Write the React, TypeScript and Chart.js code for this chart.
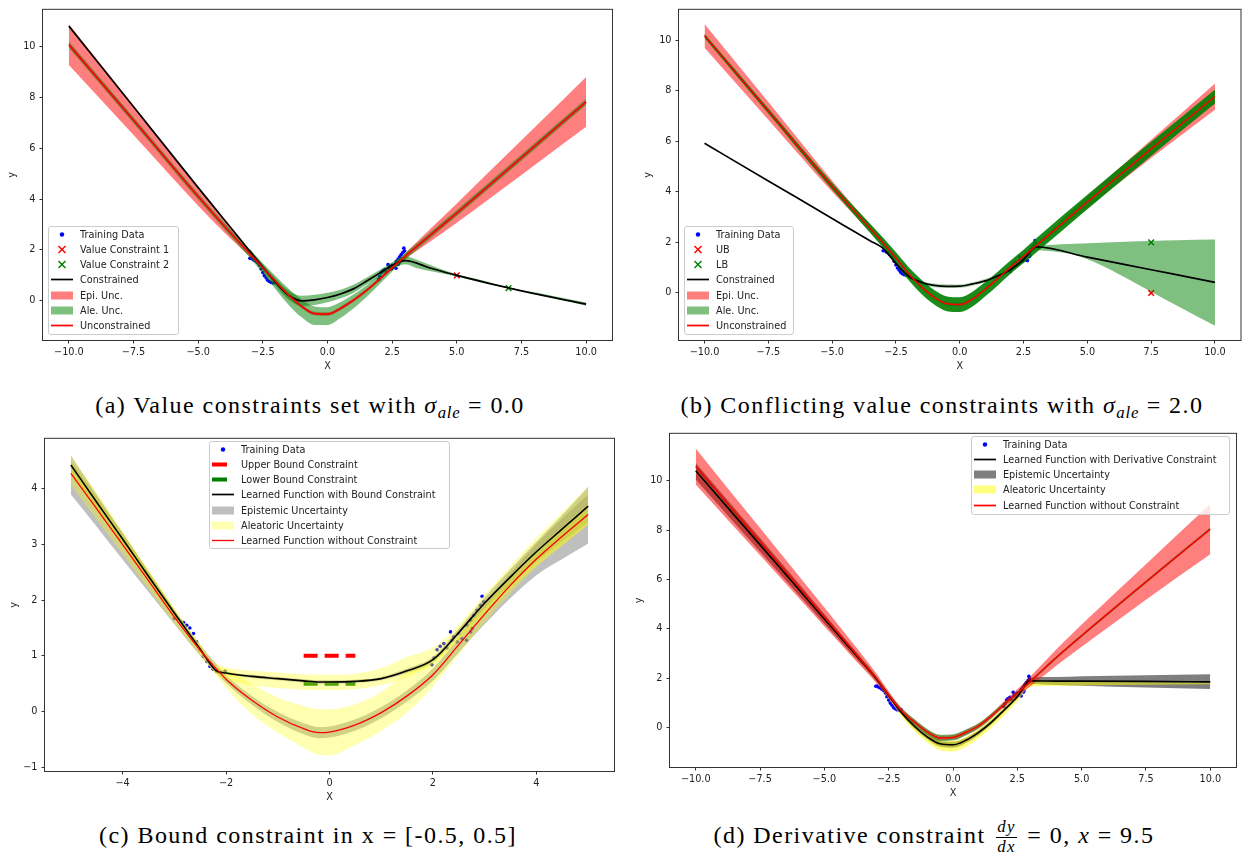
import React, { useEffect, useRef } from "react";
import { Chart, registerables } from "chart.js";

Chart.register(...registerables);

// ---------------- shared data ----------------
const TRAIN_X = [-3.0, -2.95, -2.88, -2.82, -2.76, -2.7, -2.63, -2.57, -2.5, -2.44, -2.37, -2.31, -2.25, -2.18, -2.1, -2.02,
  1.98, 2.02, 2.08, 2.14, 2.21, 2.27, 2.34, 2.37, 2.4, 2.47, 2.5, 2.56, 2.65, 2.66, 2.73, 2.73, 2.76, 2.79, 2.85, 2.92, 2.95, 2.98];
const TRAIN_Y = [1.67, 1.68, 1.62, 1.6, 1.55, 1.5, 1.4, 1.25, 1.11, 0.99, 0.9, 0.81, 0.76, 0.72, 0.7, 0.72,
  0.84, 0.96, 1.11, 1.17, 1.22, 1.14, 1.43, 1.28, 1.34, 1.25, 1.4, 1.31, 1.28, 1.55, 1.64, 1.43, 1.49, 1.73, 1.82, 1.91, 2.07, 1.97];

const GX = [-10, -7.5, -5, -4, -3, -2.5, -2, -1.5, -1, -0.5, 0, 0.5, 1, 1.5, 2, 2.5, 3, 4, 5, 7.5, 10];
const X_TICKS_WIDE = [-10, -7.5, -5, -2.5, 0, 2.5, 5, 7.5, 10];
const Y_TICKS_WIDE = [0, 2, 4, 6, 8, 10];

// ---------------- (a) ----------------
const A_RED = [10.07, 7.1, 4.1, 2.95, 1.85, 1.3, 0.75, 0.22, -0.22, -0.5, -0.52, -0.3, 0.02, 0.4, 0.84, 1.3, 1.75, 2.6, 3.45, 5.63, 7.82];
const A_EPI_LO = [9.27, 6.52, 3.74, 2.7, 1.73, 1.22, 0.68, 0.15, -0.29, -0.57, -0.59, -0.37, -0.05, 0.33, 0.77, 1.22, 1.63, 2.35, 3.07, 4.95, 6.84];
const A_EPI_HI = [10.87, 7.68, 4.46, 3.2, 1.97, 1.38, 0.82, 0.29, -0.15, -0.43, -0.45, -0.23, 0.09, 0.47, 0.91, 1.38, 1.87, 2.85, 3.83, 6.31, 8.8];
const A_ALE_LO = [9.95, 6.98, 3.98, 2.82, 1.69, 1.08, 0.45, -0.16, -0.65, -0.95, -0.95, -0.68, -0.3, 0.14, 0.64, 1.15, 1.62, 2.48, 3.33, 5.51, 7.7];
const A_ALE_HI = [10.19, 7.22, 4.22, 3.08, 2.0, 1.48, 0.97, 0.47, 0.05, -0.22, -0.25, -0.05, 0.25, 0.6, 1.01, 1.44, 1.88, 2.72, 3.57, 5.75, 7.94];
const A_BLACK = [10.8, 7.63, 4.45, 3.2, 1.95, 1.32, 0.72, 0.22, 0.0, 0.04, 0.13, 0.27, 0.47, 0.77, 1.08, 1.4, 1.58, 1.28, 1.0, 0.39, -0.13];
const A_BX = [-3, -2.5, -2, -1.5, -1, -0.5, 0, 0.5, 1, 1.5, 2, 2.5, 3, 3.5, 4, 5, 6, 7, 8.5, 10];
const A_BALE_LO = [1.85, 1.2, 0.57, 0.04, -0.2, -0.16, -0.06, 0.1, 0.31, 0.63, 0.96, 1.26, 1.44, 1.27, 1.16, 0.96, 0.7, 0.48, 0.16, -0.19];
const A_BALE_HI = [2.05, 1.44, 0.87, 0.4, 0.2, 0.24, 0.32, 0.44, 0.63, 0.91, 1.2, 1.52, 1.74, 1.6, 1.4, 1.04, 0.8, 0.52, 0.24, -0.07];
const A_VC1 = [{ x: 5, y: 1.0 }];
const A_VC2 = [{ x: 7, y: 0.5 }];

// ---------------- (b) ----------------
const B_RED = [10.17, 7.2, 4.22, 3.1, 1.98, 1.38, 0.76, 0.24, -0.17, -0.43, -0.46, -0.24, 0.15, 0.58, 1.03, 1.45, 1.88, 2.74, 3.6, 5.7, 7.77];
const B_EPI_LO = [9.7, 6.85, 4.0, 2.94, 1.88, 1.3, 0.69, 0.17, -0.24, -0.5, -0.53, -0.31, 0.08, 0.51, 0.96, 1.37, 1.78, 2.58, 3.38, 5.34, 7.25];
const B_EPI_HI = [10.64, 7.55, 4.44, 3.26, 2.08, 1.46, 0.83, 0.31, -0.1, -0.36, -0.39, -0.17, 0.22, 0.65, 1.1, 1.53, 1.98, 2.9, 3.82, 6.06, 8.29];
const B_ALE_LO = [10.09, 7.1, 4.09, 2.94, 1.78, 1.15, 0.5, -0.04, -0.46, -0.72, -0.75, -0.53, -0.13, 0.31, 0.77, 1.19, 1.6, 2.45, 3.31, 5.42, 7.49];
const B_ALE_HI = [10.25, 7.3, 4.35, 3.26, 2.18, 1.61, 1.02, 0.52, 0.12, -0.14, -0.17, 0.05, 0.43, 0.85, 1.29, 1.71, 2.16, 3.03, 3.89, 5.98, 8.05];
const B_BX = [-10, -7.5, -5, -4, -3.5, -3, -2.75, -2.5, -2, -1.5, -1, -0.5, 0, 0.5, 1, 1.5, 2, 2.5, 3, 5, 7.5, 10];
const B_BLACK = [5.92, 4.43, 2.95, 2.35, 2.06, 1.76, 1.47, 1.17, 0.66, 0.42, 0.3, 0.26, 0.27, 0.36, 0.48, 0.68, 0.93, 1.32, 1.82, 1.42, 0.92, 0.42];
const B_BALE_X = [-3, -2, -1, 0, 1, 2, 3];
const B_BALE_LO = [1.72, 0.6, 0.23, 0.2, 0.42, 0.87, 1.76];
const B_BALE_HI = [1.8, 0.72, 0.37, 0.34, 0.56, 0.99, 1.88];
const B_WIDE_X = [3, 3.5, 4.5, 5.5, 6.5, 7.5, 8.5, 10];
const B_WIDE_LO = [1.7, 1.66, 1.5, 1.12, 0.6, 0.05, -0.5, -1.3];
const B_WIDE_HI = [1.86, 1.9, 1.95, 1.99, 2.03, 2.06, 2.09, 2.12];
const B_UB = [{ x: 7.5, y: 0 }];
const B_LB = [{ x: 7.5, y: 2 }];

// ---------------- (c) ----------------
const C_X = [-5, -4.5, -4, -3.5, -3, -2.5, -2.2, -2, -1.5, -1, -0.5, -0.2, 0, 0.5, 1, 1.5, 2, 2.5, 3, 3.5, 4, 4.5, 5];
const C_RED = [4.28, 3.64, 3.0, 2.35, 1.7, 1.1, 0.78, 0.58, 0.2, -0.1, -0.31, -0.38, -0.37, -0.24, -0.02, 0.28, 0.66, 1.2, 1.75, 2.27, 2.74, 3.15, 3.54];
const C_BLACK = [4.43, 3.76, 3.1, 2.43, 1.77, 1.12, 0.74, 0.69, 0.63, 0.59, 0.55, 0.53, 0.53, 0.54, 0.59, 0.73, 0.93, 1.42, 1.95, 2.42, 2.87, 3.28, 3.69];
const C_REPI_LO = [3.9, 3.32, 2.73, 2.15, 1.57, 1.0, 0.7, 0.51, 0.12, -0.19, -0.41, -0.48, -0.47, -0.34, -0.12, 0.18, 0.55, 1.06, 1.57, 2.04, 2.45, 2.74, 3.02];
const C_REPI_HI = [4.5, 3.85, 3.2, 2.52, 1.83, 1.2, 0.86, 0.65, 0.28, -0.01, -0.21, -0.28, -0.27, -0.14, 0.08, 0.38, 0.77, 1.34, 1.93, 2.49, 3.01, 3.47, 3.9];
const C_RALE_LO = [4.08, 3.45, 2.83, 2.2, 1.58, 1.0, 0.68, 0.43, -0.05, -0.38, -0.65, -0.78, -0.79, -0.6, -0.35, -0.02, 0.45, 1.03, 1.6, 2.12, 2.59, 2.99, 3.36];
const C_RALE_HI = [4.48, 3.83, 3.17, 2.5, 1.82, 1.2, 0.88, 0.78, 0.5, 0.25, 0.1, 0.04, 0.04, 0.13, 0.35, 0.7, 0.95, 1.38, 1.9, 2.42, 2.89, 3.31, 3.72];
const C_BEPI_LO = [4.3, 3.66, 3.02, 2.37, 1.72, 1.08, 0.69, 0.66, 0.6, 0.56, 0.52, 0.5, 0.5, 0.51, 0.56, 0.69, 0.88, 1.35, 1.85, 2.28, 2.69, 3.06, 3.4];
const C_BEPI_HI = [4.6, 3.9, 3.21, 2.51, 1.83, 1.17, 0.79, 0.72, 0.66, 0.62, 0.58, 0.56, 0.56, 0.57, 0.62, 0.77, 0.98, 1.49, 2.05, 2.56, 3.05, 3.53, 4.04];
const C_BALE_LO = [4.25, 3.6, 2.96, 2.31, 1.67, 1.04, 0.67, 0.58, 0.47, 0.42, 0.39, 0.38, 0.38, 0.4, 0.47, 0.62, 0.85, 1.28, 1.75, 2.2, 2.62, 2.98, 3.35];
const C_BALE_HI = [4.6, 3.93, 3.25, 2.55, 1.87, 1.2, 0.81, 0.78, 0.73, 0.7, 0.67, 0.66, 0.66, 0.68, 0.78, 0.98, 1.15, 1.56, 2.1, 2.62, 3.12, 3.58, 4.04];
const C_BOUND_X = [-0.5, 0.5];
const C_UB_Y = [1, 1];
const C_LB_Y = [0.5, 0.5];
const C_X_TICKS = [-4, -2, 0, 2, 4];
const C_Y_TICKS = [-1, 0, 1, 2, 3, 4];

// ---------------- (d) ----------------
const D_RED = [10.58, 7.53, 4.48, 3.26, 2.02, 1.32, 0.68, 0.22, -0.18, -0.42, -0.4, -0.2, 0.07, 0.48, 0.95, 1.4, 1.86, 2.82, 3.72, 5.9, 8.04];
const D_EPI_LO = [9.85, 6.98, 4.1, 2.96, 1.82, 1.17, 0.56, 0.12, -0.28, -0.52, -0.5, -0.3, -0.03, 0.38, 0.83, 1.25, 1.66, 2.49, 3.27, 5.18, 7.02];
const D_EPI_HI = [11.31, 8.08, 4.86, 3.56, 2.22, 1.47, 0.8, 0.32, -0.08, -0.32, -0.3, -0.1, 0.17, 0.58, 1.07, 1.55, 2.06, 3.15, 4.17, 6.62, 9.06];
const D_GRN_LO = [10.52, 7.47, 4.42, 3.2, 1.95, 1.24, 0.58, 0.1, -0.3, -0.55, -0.53, -0.32, -0.04, 0.38, 0.87, 1.33, 1.8, 2.76, 3.66, 5.84, 7.98];
const D_GRN_HI = [10.64, 7.59, 4.54, 3.32, 2.09, 1.4, 0.78, 0.34, -0.06, -0.29, -0.27, -0.08, 0.18, 0.58, 1.03, 1.47, 1.92, 2.88, 3.78, 5.96, 8.1];
const D_BLACK = [10.4, 7.4, 4.4, 3.2, 2.0, 1.3, 0.6, 0.05, -0.38, -0.66, -0.7, -0.52, -0.2, 0.22, 0.72, 1.25, 1.89, 1.88, 1.88, 1.87, 1.85];
const D_GRAY_LO = [10.05, 7.12, 4.2, 3.05, 1.9, 1.22, 0.52, -0.04, -0.48, -0.78, -0.82, -0.63, -0.3, 0.13, 0.64, 1.16, 1.76, 1.72, 1.69, 1.62, 1.56];
const D_GRAY_HI = [10.72, 7.68, 4.6, 3.35, 2.1, 1.38, 0.68, 0.14, -0.28, -0.54, -0.58, -0.41, -0.1, 0.31, 0.8, 1.34, 2.02, 2.05, 2.08, 2.12, 2.16];
const D_YEL_LO = [10.35, 7.35, 4.34, 3.13, 1.9, 1.18, 0.45, -0.14, -0.6, -0.92, -0.97, -0.78, -0.44, 0.0, 0.5, 1.05, 1.65, 1.68, 1.7, 1.73, 1.75];
const D_YEL_HI = [10.45, 7.45, 4.46, 3.27, 2.08, 1.38, 0.68, 0.14, -0.28, -0.52, -0.55, -0.38, -0.06, 0.36, 0.84, 1.36, 1.9, 1.88, 1.86, 1.83, 1.81];

// ---------------- legend labels ----------------
const A_LABELS = ["Training Data", "Value Constraint 1", "Value Constraint 2", "Constrained", "Epi. Unc.", "Ale. Unc.", "Unconstrained"];
const B_LABELS = ["Training Data", "UB", "LB", "Constrained", "Epi. Unc.", "Ale. Unc.", "Unconstrained"];
const C_LABELS = ["Training Data", "Upper Bound Constraint", "Lower Bound Constraint", "Learned Function with Bound Constraint", "Epistemic Uncertainty", "Aleatoric Uncertainty", "Learned Function without Constraint"];
const D_LABELS = ["Training Data", "Learned Function with Derivative Constraint", "Epistemic Uncertainty", "Aleatoric Uncertainty", "Learned Function without Constraint"];

// ---------------- colours ----------------
const RED = "#ff0000";
const BLACK = "#000000";
const BLUE = "#0000ff";
const GREEN = "#008000";
const RED_A = "rgba(255,0,0,0.5)";
const GREEN_A = "rgba(0,128,0,0.5)";
const GREEN_DARK = "rgba(0,128,0,0.9)";
const GRAY_A = "rgba(128,128,128,0.5)";
const YELLOW_3 = "rgba(255,255,0,0.3)";
const BLACK_A = "rgba(0,0,0,0.5)";
const YELLOW_5 = "rgba(255,255,0,0.5)";

const FONT = '"DejaVu Sans", sans-serif';
const SERIF = '"Liberation Serif", "Times New Roman", "DejaVu Serif", "Noto Serif", serif';
const TXT = "#222";
const AXIS = "#333";
const YW = 36;
const XH = 32;

// ---------------- helpers ----------------
const pts = (xs: number[], ys: number[]) => xs.map((x, i) => ({ x, y: ys[i] }));

const line = (xs: number[], ys: number[], color: string, width: number, extra: any = {}) => ({
  data: pts(xs, ys), borderColor: color, borderWidth: width, pointRadius: 0, fill: false,
  cubicInterpolationMode: "monotone", ...extra,
});

const band = (xs: number[], lo: number[], hi: number[], color: string) => [
  { data: pts(xs, lo), borderWidth: 0, borderColor: "transparent", pointRadius: 0, fill: false, cubicInterpolationMode: "monotone" },
  { data: pts(xs, hi), borderWidth: 0, borderColor: "transparent", pointRadius: 0, fill: "-1", backgroundColor: color, cubicInterpolationMode: "monotone" },
];

const scatter = () => ({
  data: pts(TRAIN_X, TRAIN_Y), showLine: false, pointRadius: 1.8, pointBackgroundColor: BLUE, pointBorderWidth: 0, borderColor: BLUE,
});

const marker = (data: { x: number; y: number }[], color: string) => ({
  data, showLine: false, pointStyle: "crossRot", pointRadius: 4, pointBorderColor: color, pointBorderWidth: 1.5, borderColor: color,
});

const fmtTick = (v: number, d: number) => {
  const s = Number(v).toFixed(d);
  return s.startsWith("-") ? "\u2212" + s.slice(1) : s;
};

const framePlugin = {
  id: "frame",
  afterDraw(chart: any) {
    const { ctx, chartArea } = chart;
    const { left, top, right, bottom } = chartArea;
    ctx.save();
    ctx.strokeStyle = AXIS;
    ctx.lineWidth = 1;
    ctx.strokeRect(left - 0.5, top - 0.5, right - left + 1, bottom - top + 1);
    ctx.restore();
  },
};

type Spec = {
  left: number; top: number; plotW: number; plotH: number; pt: number; pr: number;
  xmin: number; xmax: number; ymin: number; ymax: number;
  xticks: number[]; yticks: number[]; xDec: number; datasets: any[];
};

// ---------------- panel specs ----------------
const SPEC_A: Spec = {
  left: 43, top: 4, plotW: 569, plotH: 336, pt: 4, pr: 6,
  xmin: -11, xmax: 11, ymin: -1.54, ymax: 11.44, xticks: X_TICKS_WIDE, yticks: Y_TICKS_WIDE, xDec: 1,
  datasets: [
    scatter(),
    marker(A_VC1, RED),
    marker(A_VC2, GREEN),
    ...band(GX, A_EPI_LO, A_EPI_HI, RED_A),
    ...band(GX, A_ALE_LO, A_ALE_HI, GREEN_A),
    ...band(A_BX, A_BALE_LO, A_BALE_HI, GREEN_A),
    line(GX, A_BLACK, BLACK, 1.7),
    line(GX, A_RED, RED, 1.7),
  ],
};

const SPEC_B: Spec = {
  left: 679, top: 4, plotW: 563, plotH: 336, pt: 4, pr: 4,
  xmin: -11, xmax: 11, ymin: -1.86, ymax: 11.2, xticks: X_TICKS_WIDE, yticks: Y_TICKS_WIDE, xDec: 1,
  datasets: [
    scatter(),
    marker(B_UB, RED),
    ...band(GX, B_EPI_LO, B_EPI_HI, RED_A),
    ...band(GX, B_ALE_LO, B_ALE_HI, GREEN_DARK),
    ...band(B_BALE_X, B_BALE_LO, B_BALE_HI, "rgba(0,128,0,0.3)"),
    ...band(B_WIDE_X, B_WIDE_LO, B_WIDE_HI, GREEN_A),
    line(B_BX, B_BLACK, BLACK, 1.7),
    marker(B_LB, GREEN),
    line(GX, B_RED, RED, 1.5),
  ],
};

const SPEC_C: Spec = {
  left: 45, top: 435, plotW: 569, plotH: 336, pt: 6, pr: 6,
  xmin: -5.5, xmax: 5.5, ymin: -1.07, ymax: 4.9, xticks: C_X_TICKS, yticks: C_Y_TICKS, xDec: 0,
  datasets: [
    scatter(),
    line(C_BOUND_X, C_UB_Y, RED, 4, { borderDash: [14, 7], borderCapStyle: "butt" }),
    line(C_BOUND_X, C_LB_Y, GREEN, 4, { borderDash: [14, 7], borderCapStyle: "butt" }),
    ...band(C_X, C_BEPI_LO, C_BEPI_HI, GRAY_A),
    ...band(C_X, C_REPI_LO, C_REPI_HI, GRAY_A),
    ...band(C_X, C_BALE_LO, C_BALE_HI, YELLOW_3),
    ...band(C_X, C_RALE_LO, C_RALE_HI, YELLOW_3),
    line(C_X, C_BLACK, BLACK, 1.6),
    line(C_X, C_RED, RED, 1.3),
  ],
};

const SPEC_D: Spec = {
  left: 670, top: 430, plotW: 566, plotH: 337, pt: 6, pr: 6,
  xmin: -11, xmax: 11, ymin: -1.6, ymax: 11.9, xticks: X_TICKS_WIDE, yticks: Y_TICKS_WIDE, xDec: 1,
  datasets: [
    scatter(),
    ...band(GX, D_GRAY_LO, D_GRAY_HI, BLACK_A),
    ...band(GX, D_YEL_LO, D_YEL_HI, YELLOW_5),
    ...band(GX, D_EPI_LO, D_EPI_HI, RED_A),
    ...band(GX, D_GRN_LO, D_GRN_HI, GREEN_A),
    line(GX, D_BLACK, BLACK, 1.6),
    line(GX, D_RED, RED, 1.5),
  ],
};

// ---------------- components ----------------
function Panel({ spec }: { spec: Spec }) {
  const ref = useRef<HTMLCanvasElement>(null);
  const W = YW + spec.plotW + spec.pr;
  const H = spec.pt + spec.plotH + XH;
  useEffect(() => {
    const n = spec.datasets.length;
    const datasets = spec.datasets.map((d, i) => ({ ...d, order: n - i }));
    const tickFont = { family: FONT, size: 9.7 };
    const chart = new Chart(ref.current as HTMLCanvasElement, {
      type: "line",
      data: { datasets } as any,
      options: {
        animation: false,
        responsive: false,
        maintainAspectRatio: false,
        events: [],
        layout: { padding: { top: spec.pt, right: spec.pr, left: 0, bottom: 0 } },
        plugins: { legend: { display: false }, tooltip: { enabled: false } },
        scales: {
          x: {
            type: "linear", min: spec.xmin, max: spec.xmax,
            afterFit: (s: any) => { s.height = XH; },
            afterBuildTicks: (s: any) => { s.ticks = spec.xticks.map((v) => ({ value: v })); },
            ticks: { autoSkip: false, maxRotation: 0, padding: 3, color: TXT, font: tickFont, callback: (v: any) => fmtTick(v, spec.xDec) },
            grid: { display: true, drawOnChartArea: false, drawTicks: true, tickLength: 3.5, color: AXIS, lineWidth: 1 },
            border: { display: false },
            title: { display: true, text: "X", color: TXT, font: tickFont, padding: { top: 0, bottom: 0 } },
          },
          y: {
            type: "linear", min: spec.ymin, max: spec.ymax,
            afterFit: (s: any) => { s.width = YW; },
            afterBuildTicks: (s: any) => { s.ticks = spec.yticks.map((v) => ({ value: v })); },
            ticks: { autoSkip: false, padding: 4, color: TXT, font: tickFont, callback: (v: any) => fmtTick(v, 0) },
            grid: { display: true, drawOnChartArea: false, drawTicks: true, tickLength: 3.5, color: AXIS, lineWidth: 1 },
            border: { display: false },
            title: { display: true, text: "y", color: TXT, font: tickFont, padding: { top: 0, bottom: 0 } },
          },
        },
      } as any,
      plugins: [framePlugin],
    });
    return () => chart.destroy();
  }, []);
  return (
    <canvas
      ref={ref}
      width={W}
      height={H}
      style={{ position: "absolute", left: spec.left - YW, top: spec.top - spec.pt, width: W, height: H }}
    />
  );
}

type Item = { kind: string; color: string; w?: number };

function Handle({ kind, color, w }: Item) {
  return (
    <svg width={22} height={15} style={{ position: "absolute", left: 2, top: 0 }}>
      {kind === "dot" && <circle cx={11} cy={7.5} r={2.2} fill={color} />}
      {kind === "x" && (
        <g stroke={color} strokeWidth={1.5}>
          <line x1={7.5} y1={4} x2={14.5} y2={11} />
          <line x1={7.5} y1={11} x2={14.5} y2={4} />
        </g>
      )}
      {kind === "line" && <line x1={0} y1={7.5} x2={22} y2={7.5} stroke={color} strokeWidth={w || 1.7} />}
      {kind === "patch" && <rect x={0} y={3.5} width={22} height={8} fill={color} />}
      {kind === "bar" && <rect x={0} y={5.5} width={15} height={4} fill={color} />}
    </svg>
  );
}

function Legend({ left, top, width, height, labels, items }: { left: number; top: number; width: number; height: number; labels: string[]; items: Item[] }) {
  return (
    <div
      style={{
        position: "absolute", left, top, width, height, boxSizing: "border-box",
        background: "rgba(255,255,255,0.8)", border: "1px solid #cccccc", borderRadius: 3,
        fontFamily: FONT, fontSize: 9.7, color: TXT, zIndex: 2,
      }}
    >
      {labels.map((lab, i) => (
        <div key={i} style={{ position: "absolute", left: 0, top: -0.5 + i * 15.3, height: 15, width: "100%" }}>
          <Handle {...items[i]} />
          <span style={{ position: "absolute", left: 31, top: 0, lineHeight: "15px", whiteSpace: "nowrap" }}>{lab}</span>
        </div>
      ))}
    </div>
  );
}

const capStyle = (cx: number, cy: number): React.CSSProperties => ({
  position: "absolute", left: cx - 350, top: cy - 16, width: 700, height: 32, textAlign: "center",
  fontFamily: SERIF, fontSize: 24, lineHeight: "32px", color: "#000",
  whiteSpace: "nowrap", letterSpacing: 1.45,
});

const Sigma = () => (
  <span>
    <i>σ</i>
    <i style={{ fontSize: "0.7em", verticalAlign: "-0.3em", letterSpacing: 0.8 }}>ale</i>
  </span>
);

const Frac = () => (
  <span style={{ display: "inline-flex", flexDirection: "column", alignItems: "center", verticalAlign: "middle", fontSize: "0.7em", lineHeight: 1, margin: "0 3px", fontStyle: "italic" }}>
    <span style={{ borderBottom: "1px solid #000", padding: "0 1px 1px" }}>dy</span>
    <span style={{ paddingTop: 1 }}>dx</span>
  </span>
);

export default function App() {
  return (
    <div style={{ position: "absolute", left: 0, top: 0, width: 1246, height: 852, background: "#fff", overflow: "hidden" }}>
      <Panel spec={SPEC_A} />
      <Panel spec={SPEC_B} />
      <Panel spec={SPEC_C} />
      <Panel spec={SPEC_D} />

      <Legend left={48} top={226} width={131} height={109} labels={A_LABELS}
        items={[{ kind: "dot", color: BLUE }, { kind: "x", color: RED }, { kind: "x", color: GREEN }, { kind: "line", color: BLACK }, { kind: "patch", color: RED_A }, { kind: "patch", color: GREEN_A }, { kind: "line", color: RED }]} />
      <Legend left={684} top={226} width={110} height={109} labels={B_LABELS}
        items={[{ kind: "dot", color: BLUE }, { kind: "x", color: RED }, { kind: "x", color: GREEN }, { kind: "line", color: BLACK }, { kind: "patch", color: RED_A }, { kind: "patch", color: GREEN_A }, { kind: "line", color: RED }]} />
      <Legend left={209} top={441} width={241} height={108} labels={C_LABELS}
        items={[{ kind: "dot", color: BLUE }, { kind: "bar", color: RED }, { kind: "bar", color: GREEN }, { kind: "line", color: BLACK }, { kind: "patch", color: GRAY_A }, { kind: "patch", color: YELLOW_3 }, { kind: "line", color: RED, w: 1.3 }]} />
      <Legend left={971} top={436} width={259} height={79} labels={D_LABELS}
        items={[{ kind: "dot", color: BLUE }, { kind: "line", color: BLACK }, { kind: "patch", color: BLACK_A }, { kind: "patch", color: YELLOW_5 }, { kind: "line", color: RED }]} />

      <div style={capStyle(310, 405)}>(a) Value constraints set with <Sigma /> = 0.0</div>
      <div style={capStyle(942, 405)}>(b) Conflicting value constraints with <Sigma /> = 2.0</div>
      <div style={capStyle(308, 835)}>(c) Bound constraint in x = [-0.5, 0.5]</div>
      <div style={capStyle(934, 835)}>(d) Derivative constraint <Frac /> = 0, <i>x</i> = 9.5</div>
    </div>
  );
}
